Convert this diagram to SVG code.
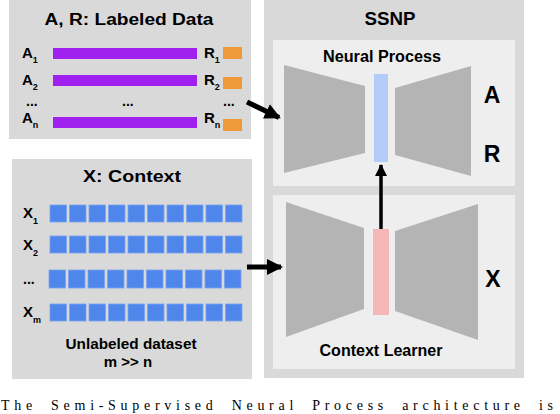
<svg xmlns="http://www.w3.org/2000/svg" width="560" height="414" viewBox="0 0 560 414">
<style>
.t{font-family:"Liberation Sans",Arial,sans-serif;font-weight:bold;fill:#000}
.panel{fill:#d9d9d9}
.inner{fill:#eeeeee}
.trap{fill:#b4b4b4}
.bar{fill:#a020f0}
.org{fill:#f0993a}
.sq{fill:#4f86ec;stroke:#7aa3f0;stroke-width:0.8}
.cap{font-family:"Liberation Serif","Times New Roman",serif;font-size:14px;fill:#000}
</style>
<defs>
<marker id="ah" markerUnits="userSpaceOnUse" markerWidth="16" markerHeight="16" refX="14" refY="8" orient="auto">
<path d="M0,0 L16,8 L0,16 Z" fill="#000"/>
</marker>
<marker id="ahs" markerUnits="userSpaceOnUse" markerWidth="12" markerHeight="12" refX="11" refY="6" orient="auto">
<path d="M0,0 L12,6 L0,12 Z" fill="#000"/>
</marker>
</defs>

<g id="labeled-data">
<rect class="panel" x="9" y="-2" width="242" height="141"/>
<text class="t" x="129" y="25" font-size="16" text-anchor="middle" textLength="169" lengthAdjust="spacingAndGlyphs">A, R: Labeled Data</text>
<text class="t" x="22" y="58" font-size="15">A<tspan font-size="9" dy="5">1</tspan></text>
<rect class="bar" x="53" y="48" width="144" height="11"/>
<text class="t" x="204" y="58" font-size="15">R<tspan font-size="9" dy="5">1</tspan></text>
<rect class="org" x="223" y="47" width="19" height="12"/>
<text class="t" x="22" y="85" font-size="15">A<tspan font-size="9" dy="5">2</tspan></text>
<rect class="bar" x="53" y="75" width="144" height="11"/>
<text class="t" x="204" y="85" font-size="15">R<tspan font-size="9" dy="5">2</tspan></text>
<rect class="org" x="223" y="77" width="19" height="12"/>
<text class="t" x="26" y="106" font-size="14">...</text>
<text class="t" x="122" y="106" font-size="14">...</text>
<text class="t" x="223" y="106" font-size="14">...</text>
<text class="t" x="22" y="123" font-size="15">A<tspan font-size="9" dy="5">n</tspan></text>
<rect class="bar" x="53" y="117" width="144" height="11"/>
<text class="t" x="204" y="123" font-size="15">R<tspan font-size="9" dy="5">n</tspan></text>
<rect class="org" x="223" y="119" width="19" height="12"/>
</g>

<g id="context">
<rect class="panel" x="12" y="159" width="240" height="220"/>
<text class="t" x="132" y="182" font-size="17" text-anchor="middle" textLength="98" lengthAdjust="spacingAndGlyphs">X: Context</text>
<text class="t" x="23" y="218" font-size="15">X<tspan font-size="9" dy="6">1</tspan></text>
<text class="t" x="23" y="250" font-size="15">X<tspan font-size="9" dy="6">2</tspan></text>
<text class="t" x="23" y="284" font-size="14">...</text>
<text class="t" x="23" y="317" font-size="15">X<tspan font-size="9" dy="6">m</tspan></text>
<g id="row1">
<rect class="sq" x="50" y="205" width="16.5" height="17"/><rect class="sq" x="69.5" y="205" width="16.5" height="17"/><rect class="sq" x="89" y="205" width="16.5" height="17"/><rect class="sq" x="108.5" y="205" width="16.5" height="17"/><rect class="sq" x="128" y="205" width="16.5" height="17"/><rect class="sq" x="147.5" y="205" width="16.5" height="17"/><rect class="sq" x="167" y="205" width="16.5" height="17"/><rect class="sq" x="186.5" y="205" width="16.5" height="17"/><rect class="sq" x="206" y="205" width="16.5" height="17"/><rect class="sq" x="225.5" y="205" width="16.5" height="17"/>
</g>
<g id="row2">
<rect class="sq" x="50" y="236" width="16.5" height="17"/><rect class="sq" x="69.5" y="236" width="16.5" height="17"/><rect class="sq" x="89" y="236" width="16.5" height="17"/><rect class="sq" x="108.5" y="236" width="16.5" height="17"/><rect class="sq" x="128" y="236" width="16.5" height="17"/><rect class="sq" x="147.5" y="236" width="16.5" height="17"/><rect class="sq" x="167" y="236" width="16.5" height="17"/><rect class="sq" x="186.5" y="236" width="16.5" height="17"/><rect class="sq" x="206" y="236" width="16.5" height="17"/><rect class="sq" x="225.5" y="236" width="16.5" height="17"/>
</g>
<g id="row3">
<rect class="sq" x="49" y="270" width="16.5" height="18"/><rect class="sq" x="68.5" y="270" width="16.5" height="18"/><rect class="sq" x="88" y="270" width="16.5" height="18"/><rect class="sq" x="107.5" y="270" width="16.5" height="18"/><rect class="sq" x="127" y="270" width="16.5" height="18"/><rect class="sq" x="146.5" y="270" width="16.5" height="18"/><rect class="sq" x="166" y="270" width="16.5" height="18"/><rect class="sq" x="185.5" y="270" width="16.5" height="18"/><rect class="sq" x="205" y="270" width="16.5" height="18"/><rect class="sq" x="224.5" y="270" width="16.5" height="18"/>
</g>
<g id="row4">
<rect class="sq" x="50" y="304" width="16.5" height="17"/><rect class="sq" x="69.5" y="304" width="16.5" height="17"/><rect class="sq" x="89" y="304" width="16.5" height="17"/><rect class="sq" x="108.5" y="304" width="16.5" height="17"/><rect class="sq" x="128" y="304" width="16.5" height="17"/><rect class="sq" x="147.5" y="304" width="16.5" height="17"/><rect class="sq" x="167" y="304" width="16.5" height="17"/><rect class="sq" x="186.5" y="304" width="16.5" height="17"/><rect class="sq" x="206" y="304" width="16.5" height="17"/><rect class="sq" x="225.5" y="304" width="16.5" height="17"/>
</g>
<text class="t" x="131" y="349" font-size="15" text-anchor="middle" textLength="131" lengthAdjust="spacingAndGlyphs">Unlabeled dataset</text>
<text class="t" x="128" y="367" font-size="15" text-anchor="middle">m &gt;&gt; n</text>
</g>

<g id="ssnp">
<rect class="panel" x="264" y="-2" width="260" height="380"/>
<text class="t" x="390" y="25" font-size="18" text-anchor="middle" textLength="51" lengthAdjust="spacingAndGlyphs">SSNP</text>
</g>

<g id="neural-process">
<rect class="inner" x="273" y="40" width="242" height="146"/>
<text class="t" x="382" y="62" font-size="16" text-anchor="middle" textLength="118" lengthAdjust="spacingAndGlyphs">Neural Process</text>
<polygon class="trap" points="284,65 365,86 365,153 284,173"/>
<rect x="374" y="74" width="14" height="88" fill="#b4ccf8"/>
<polygon class="trap" points="395,88 471,66 471,176 395,155"/>
<text class="t" x="492" y="103" font-size="23" text-anchor="middle">A</text>
<text class="t" x="492" y="162" font-size="23" text-anchor="middle">R</text>
</g>

<g id="context-learner">
<rect class="inner" x="273" y="195" width="242" height="174"/>
<polygon class="trap" points="286,202 364,228 364,309 286,337"/>
<rect x="373" y="229" width="16" height="86" fill="#f4b8b8"/>
<polygon class="trap" points="395,231 478,204 478,340 395,311"/>
<text class="t" x="493" y="287" font-size="23" text-anchor="middle">X</text>
<text class="t" x="381" y="356" font-size="16" text-anchor="middle" textLength="123" lengthAdjust="spacingAndGlyphs">Context Learner</text>
</g>

<g id="connectors" stroke="#000" fill="none">
<line x1="247" y1="102" x2="279" y2="117.5" stroke-width="5" marker-end="url(#ah)"/>
<line x1="247" y1="267" x2="281" y2="267" stroke-width="5" marker-end="url(#ah)"/>
<line x1="381" y1="229" x2="381" y2="165" stroke-width="3.5" marker-end="url(#ahs)"/>
</g>

<text class="cap" x="1" y="410" textLength="552" lengthAdjust="spacing" word-spacing="6">The Semi-Supervised Neural Process architecture is</text>
</svg>
